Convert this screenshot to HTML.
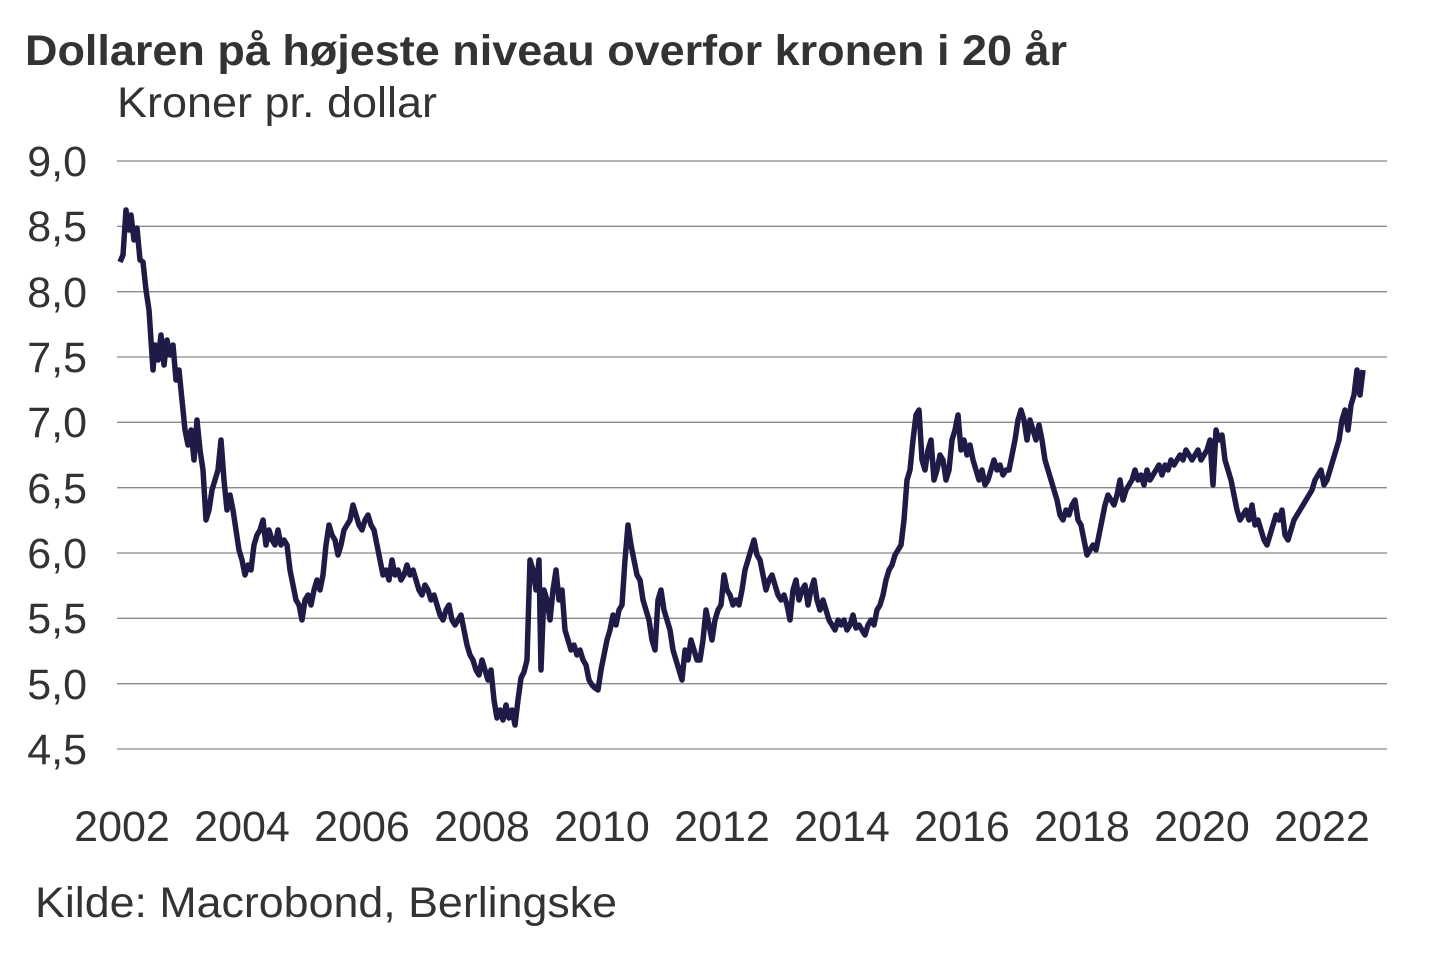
<!DOCTYPE html>
<html><head><meta charset="utf-8"><style>
body{margin:0;background:#fff;width:1440px;height:960px;overflow:hidden}
svg{display:block}
text{font-family:"Liberation Sans",Arial,sans-serif;fill:#333}
</style></head><body>
<svg width="1440" height="960" viewBox="0 0 1440 960">
<text x="25" y="65" font-size="43" font-weight="bold" textLength="1042" lengthAdjust="spacingAndGlyphs">Dollaren på højeste niveau overfor kronen i 20 år</text>
<text x="117" y="117" font-size="43" textLength="320" lengthAdjust="spacingAndGlyphs">Kroner pr. dollar</text>
<g stroke="#8a8a8a" stroke-width="1.3">
<line x1="117" x2="1387" y1="161" y2="161"/><line x1="117" x2="1387" y1="226.3" y2="226.3"/>
<line x1="117" x2="1387" y1="291.7" y2="291.7"/><line x1="117" x2="1387" y1="357" y2="357"/>
<line x1="117" x2="1387" y1="422.3" y2="422.3"/><line x1="117" x2="1387" y1="487.7" y2="487.7"/>
<line x1="117" x2="1387" y1="553" y2="553"/><line x1="117" x2="1387" y1="618.3" y2="618.3"/>
<line x1="117" x2="1387" y1="683.7" y2="683.7"/><line x1="117" x2="1387" y1="749" y2="749"/>
</g>
<g font-size="43" text-anchor="end">
<text x="87" y="176">9,0</text><text x="87" y="241">8,5</text><text x="87" y="307">8,0</text>
<text x="87" y="372">7,5</text><text x="87" y="437">7,0</text><text x="87" y="503">6,5</text>
<text x="87" y="568">6,0</text><text x="87" y="633">5,5</text><text x="87" y="699">5,0</text>
<text x="87" y="764">4,5</text>
</g>
<g font-size="43" text-anchor="middle">
<text x="122" y="841">2002</text><text x="242" y="841">2004</text><text x="362" y="841">2006</text>
<text x="482" y="841">2008</text><text x="602" y="841">2010</text><text x="722" y="841">2012</text>
<text x="842" y="841">2014</text><text x="962" y="841">2016</text><text x="1082" y="841">2018</text>
<text x="1202" y="841">2020</text><text x="1322" y="841">2022</text>
</g>
<text x="35" y="917" font-size="43" textLength="582" lengthAdjust="spacingAndGlyphs">Kilde: Macrobond, Berlingske</text>
<polyline fill="none" stroke="#1e1b46" stroke-width="5.5" stroke-linejoin="round" points="120,262 123,255 126,210 129,230 131,215 134,240 137,228 140,260 143,262 146,290 149,310 151,340 153,370 155,345 158,360 161,335 164,365 167,340 170,355 173,345 176,380 179,370 182,400 185,430 188,445 191,430 194,460 197,420 200,450 203,470 206,520 209,510 212,490 215,480 218,470 221,440 224,480 227,510 230,495 233,510 236,530 239,550 242,560 245,575 248,565 251,570 254,545 257,535 260,530 263,520 266,545 269,530 272,540 275,545 278,530 281,545 284,540 287,545 290,570 293,585 296,600 299,605 302,620 305,600 308,595 311,605 314,590 317,580 320,590 323,575 326,545 329,525 332,535 335,540 338,555 341,545 344,530 347,525 350,520 353,505 356,515 359,525 362,530 365,520 368,515 371,525 374,530 377,545 380,560 383,575 386,570 389,580 392,560 395,575 398,570 401,580 404,575 407,565 410,575 413,570 416,580 419,590 422,595 425,585 428,590 431,600 434,595 437,605 440,615 443,620 446,610 449,605 452,620 455,625 458,620 461,615 464,630 467,645 470,655 473,660 476,670 479,675 482,660 485,670 488,680 491,670 494,700 497,718 500,710 503,720 506,705 509,718 512,710 515,725 518,700 521,678 524,672 527,660 530,560 533,570 536,590 539,560 541,670 544,590 547,600 550,620 553,590 556,570 559,600 562,590 565,630 568,640 571,650 574,645 577,655 580,650 583,660 586,665 589,680 592,685 595,688 598,690 601,670 604,655 607,640 610,630 613,615 616,625 619,610 622,605 625,560 628,525 631,545 634,560 637,575 640,580 643,600 646,610 649,620 652,640 655,650 658,600 661,590 664,610 667,620 670,630 673,650 676,660 679,670 682,680 685,650 688,660 691,640 694,650 697,660 700,660 703,640 706,610 709,625 712,640 715,620 718,610 721,605 724,575 727,590 730,595 733,605 736,600 739,605 742,590 745,570 748,560 751,550 754,540 757,555 760,560 763,575 766,590 769,580 772,575 775,585 778,595 781,600 784,595 787,605 790,620 793,590 796,580 799,600 802,590 805,585 808,605 811,590 814,580 817,600 820,610 823,600 826,610 829,620 832,625 835,630 838,620 841,625 844,620 847,630 850,625 853,615 856,628 859,625 862,630 865,635 868,625 871,620 874,625 877,610 880,605 883,595 886,580 889,570 892,565 895,555 898,550 901,545 904,520 907,480 910,470 913,440 916,415 919,410 922,460 925,470 928,450 931,440 934,480 937,470 940,455 943,460 946,480 949,470 952,440 955,430 958,415 961,450 964,440 967,455 970,445 973,460 976,470 979,480 982,470 985,485 988,480 991,470 994,460 997,470 1000,465 1003,475 1006,470 1009,470 1012,455 1015,440 1018,420 1021,410 1024,420 1027,440 1030,420 1033,430 1036,440 1039,425 1042,440 1045,460 1048,470 1051,480 1054,490 1057,500 1060,515 1063,520 1066,510 1069,515 1072,505 1075,500 1078,520 1081,525 1084,540 1087,555 1090,550 1093,545 1096,550 1099,535 1102,520 1105,505 1108,495 1111,500 1114,505 1117,495 1120,480 1123,500 1126,490 1129,485 1132,480 1135,470 1138,480 1141,475 1144,485 1147,470 1150,480 1153,475 1156,470 1159,465 1162,475 1165,465 1168,470 1171,460 1174,465 1177,460 1180,455 1183,460 1186,450 1189,455 1192,460 1195,455 1198,450 1201,460 1204,455 1207,450 1210,440 1213,485 1216,430 1219,440 1222,435 1225,460 1228,470 1231,480 1234,495 1237,510 1240,520 1243,515 1246,510 1249,520 1252,505 1255,525 1258,520 1261,530 1264,540 1267,545 1270,535 1273,525 1276,515 1279,520 1282,510 1285,535 1288,540 1291,530 1294,520 1297,515 1300,510 1303,505 1306,500 1309,495 1312,490 1315,480 1318,475 1321,470 1324,485 1327,480 1330,470 1333,460 1336,450 1339,440 1342,420 1345,410 1348,430 1351,405 1354,395 1357,370 1360,395 1363,370"/>
</svg>
</body></html>
